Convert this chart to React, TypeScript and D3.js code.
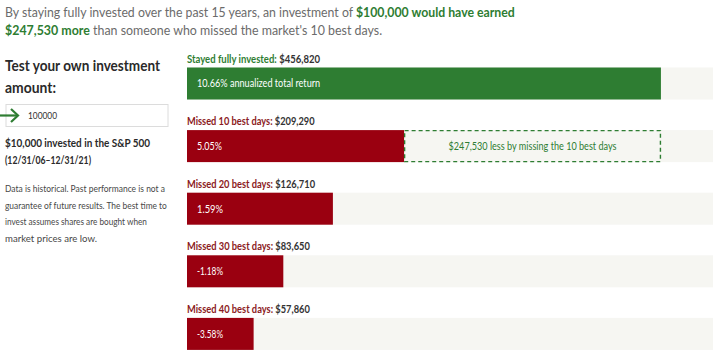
import React, { useLayoutEffect, useRef, useState } from "react";
import * as d3 from "d3";

const rowLabels = ["Stayed fully invested", "Missed 10 best days", "Missed 20 best days", "Missed 30 best days", "Missed 40 best days"];
const endValues = [456820, 209290, 126710, 83650, 57860];
const returns = ["10.66% annualized total return", "5.05%", "1.59%", "-1.18%", "-3.58%"];
const difference = 247530;
const noteLines = ["Data is historical. Past performance is not a", "guarantee of future results. The best time to", "invest assumes shares are bought when", "market prices are low."];

const W = 720;
const H = 359;
const GREEN = "#2e7d32";
const RED = "#9a0010";
const TRACK = "#f6f6f2";
const FONT = "Lato, 'Open Sans', sans-serif";

const fmt = d3.format("$,");

// measured text widths of the reference typography (Source Sans is narrow)
const labelLen = [133, 127.5, 128, 123, 123];
const noteLen = [160, 162, 142, 92];

type FitProps = {
  x: number;
  y: number;
  width: number;
  anchor?: string;
  children?: React.ReactNode;
  [k: string]: any;
};

// Text compressed horizontally to a target width (narrow-font look)
function FitText({ x, y, width, anchor = "start", children, ...rest }: FitProps) {
  const ref = useRef<SVGTextElement>(null);
  const [sx, setSx] = useState(0.87);
  useLayoutEffect(() => {
    if (ref.current) {
      const len = ref.current.getComputedTextLength();
      if (len > 0) setSx(Math.min(1, width / len));
    }
  }, [width]);
  return (
    <text ref={ref} transform={`translate(${x},${y}) scale(${sx},1)`} x={0} y={0} textAnchor={anchor} {...rest}>
      {children}
    </text>
  );
}

export default function App() {
  const x0 = 187;
  const x1 = 713;
  const trackW = x1 - x0;
  const maxV = d3.max(endValues) as number;
  // top comparison rows scaled to 90% of the track, remaining rows to full track
  const xTop = d3.scaleLinear().domain([0, maxV]).range([x0, x0 + trackW * 0.901]);
  const xFull = d3.scaleLinear().domain([0, maxV]).range([x0, x1]);
  const y = d3.scaleBand().domain(rowLabels).range([48, 48 + 62.6 * 5]);
  const barH = 32;

  return (
    <svg width={W} height={H} style={{ position: "absolute", left: 0, top: 0, background: "#fff" }} fontFamily={FONT}>
      {/* header */}
      <FitText x={5} y={17} width={510} fontSize={14} fill="#6b6b6b">
        By staying fully invested over the past 15 years, an investment of{" "}
        <tspan fill={GREEN} fontWeight={700}>$100,000 would have earned</tspan>
      </FitText>
      <FitText x={5} y={35} width={377} fontSize={14} fill="#6b6b6b">
        <tspan fill={GREEN} fontWeight={700}>{fmt(difference)} more</tspan> than someone who missed the market's 10 best days.
      </FitText>

      {/* left panel */}
      <FitText x={5} y={71} width={155} fontSize={15} fontWeight={700} fill="#2a2a2a">Test your own investment</FitText>
      <FitText x={5} y={93} width={51} fontSize={15} fontWeight={700} fill="#2a2a2a">amount:</FitText>
      <rect x={6} y={104.5} width={162} height={22} fill="#fff" stroke="#dcdcdc" strokeWidth={1} />
      <line x1={0} y1={115.5} x2={17} y2={115.5} stroke={GREEN} strokeWidth={2.2} />
      <path d="M11,109 L18,115.5 L11,122" fill="none" stroke={GREEN} strokeWidth={2.2} />
      <FitText x={28} y={119} width={29} fontSize={10} fill="#333">100000</FitText>
      <FitText x={5} y={147} width={145} fontSize={10.5} fontWeight={700} fill="#2a2a2a">$10,000 invested in the S&amp;P 500</FitText>
      <FitText x={5} y={164} width={86} fontSize={10.5} fontWeight={700} fill="#2a2a2a">(12/31/06–12/31/21)</FitText>
      {noteLines.map((t, i) => (
        <FitText key={i} x={5} y={192 + i * 16.5} width={noteLen[i]} fontSize={9.8} fill="#474747">{t}</FitText>
      ))}

      {/* bars */}
      {rowLabels.map((lab, i) => {
        const top = (y(lab) as number) + 19.5;
        const sc = i < 2 ? xTop : xFull;
        const labColor = i === 0 ? GREEN : "#8b1a22";
        return (
          <g key={lab}>
            <FitText x={x0} y={top - 5} width={labelLen[i]} fontSize={11} fontWeight={700} fill={labColor}>
              {lab}: <tspan fill="#333">{fmt(endValues[i])}</tspan>
            </FitText>
            <rect x={x0} y={top} width={trackW} height={barH} fill={TRACK} />
            <rect x={x0} y={top} width={sc(endValues[i]) - x0} height={barH} fill={i === 0 ? GREEN : RED} />
            {i === 0 ? (
              <FitText x={x0 + 10} y={top + barH / 2 + 3.8} width={123} fontSize={10.5} fill="#fff">{returns[i]}</FitText>
            ) : (
              <FitText x={x0 + 10} y={top + barH / 2 + 3.8} width={i === 1 ? 25 : 26} fontSize={10.5} fill="#fff">{returns[i]}</FitText>
            )}
            {i === 1 && (
              <g>
                <rect x={sc(endValues[1]) + 0.5} y={top + 0.5} width={sc(endValues[0]) - sc(endValues[1]) - 1} height={barH - 1}
                  fill={TRACK} stroke={GREEN} strokeWidth={1.4} strokeDasharray="4,3" />
                <FitText x={(sc(endValues[1]) + sc(endValues[0])) / 2} y={top + barH / 2 + 3.8} width={168} anchor="middle" fontSize={10.5} fill={GREEN}>
                  {fmt(endValues[0] - endValues[1])} less by missing the 10 best days
                </FitText>
              </g>
            )}
          </g>
        );
      })}
    </svg>
  );
}
